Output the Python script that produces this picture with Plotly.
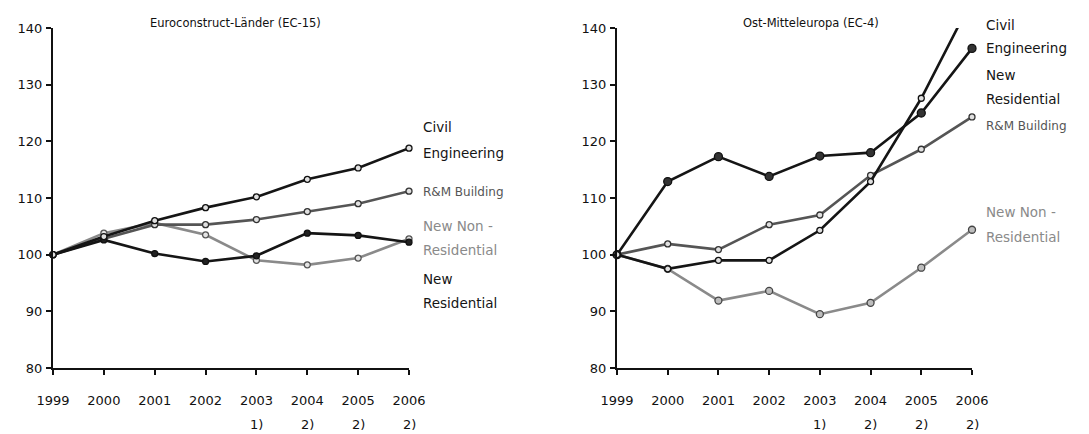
import plotly.graph_objects as go

years = [1999, 2000, 2001, 2002, 2003, 2004, 2005, 2006]
footnotes = ["", "", "", "", "1)", "2)", "2)", "2)"]

# Euroconstruct-Länder (EC-15)
ec15_civil = [100, 103.2, 106.0, 108.3, 110.2, 113.3, 115.3, 118.8]
ec15_rm = [100, 102.8, 105.3, 105.3, 106.2, 107.6, 109.0, 111.2]
ec15_nonres = [100, 103.8, 105.6, 103.5, 99.0, 98.2, 99.4, 102.8]
ec15_newres = [100, 102.6, 100.2, 98.8, 99.8, 103.8, 103.4, 102.2]

# Ost-Mitteleuropa (EC-4)
ec4_civil = [100, 97.5, 99.0, 99.0, 104.3, 112.9, 127.6, 145.0]
ec4_newres = [100, 112.9, 117.3, 113.8, 117.4, 118.0, 125.0, 136.4]
ec4_rm = [100, 101.9, 100.9, 105.3, 107.0, 114.0, 118.6, 124.3]
ec4_nonres = [100, 97.5, 91.9, 93.6, 89.5, 91.5, 97.7, 104.4]

FONT = "DejaVu Sans"
BLACK = "#151515"
DARK = "#555555"
LIGHT = "#8a8a8a"

fig = go.Figure()


def add(x, y, xa, ya, color, mfill, mline, size, clip=False, width=2.6):
    fig.add_trace(go.Scatter(
        x=x, y=y, xaxis=xa, yaxis=ya, mode="lines+markers",
        line=dict(color=color, width=width),
        marker=dict(symbol="circle", size=size, color=mfill,
                    line=dict(color=mline, width=1.3)),
        cliponaxis=clip, showlegend=False, hoverinfo="x+y"))


# left panel
add(years, ec15_nonres, "x", "y", LIGHT, "#e4e4e4", "#555", 6)
add(years, ec15_rm, "x", "y", DARK, "#e0e0e0", "#333", 6)
add(years, ec15_newres, "x", "y", BLACK, "#222", "#111", 6)
add(years, ec15_civil, "x", "y", BLACK, "#e0e0e0", "#111", 6)
# right panel
add(years, ec4_nonres, "x2", "y2", LIGHT, "#bdbdbd", "#444", 7)
add(years, ec4_rm, "x2", "y2", DARK, "#e0e0e0", "#333", 6)
add(years, ec4_newres, "x2", "y2", BLACK, "#333", "#111", 8)
add(years, ec4_civil, "x2", "y2", BLACK, "#e0e0e0", "#111", 6, clip=True)

# the page body has an 8px margin; figure is sized to fit the window
OFF = 8
W, H = 1089 - OFF, 434 - OFF


def fx(px):
    return (px - OFF) / W


def fy(py):
    return (H - (py - OFF)) / H


axis_common = dict(
    showgrid=False, zeroline=False, showline=True, linecolor="#111", linewidth=2,
    ticks="outside", ticklen=5, tickwidth=1.5, tickcolor="#111", automargin=False,
    tickfont=dict(family=FONT, size=13, color="#111"),
)

fig.update_layout(
    width=W, height=H, margin=dict(l=0, r=0, t=0, b=0, autoexpand=False),
    paper_bgcolor="white", plot_bgcolor="white",
    xaxis=dict(domain=[fx(53), fx(409)], range=[1999, 2006], tickvals=years,
               ticklabelstandoff=14, anchor="y", **axis_common),
    yaxis=dict(domain=[fy(368), fy(28)], range=[80, 140], dtick=10,
               ticklabelstandoff=1, anchor="x", **axis_common),
    xaxis2=dict(domain=[fx(617), fx(972)], range=[1999, 2006], tickvals=years,
                ticklabelstandoff=14, anchor="y2", **axis_common),
    yaxis2=dict(domain=[fy(368), fy(28)], range=[80, 140], dtick=10,
                ticklabelstandoff=1, anchor="x2", **axis_common),
)

ann = []
# titles
ann.append(dict(text="Euroconstruct-Länder (EC-15)", xref="x", yref="paper",
                x=2002.58, y=fy(23), yanchor="middle", showarrow=False,
                font=dict(family=FONT, size=11.5, color="#111")))
ann.append(dict(text="Ost-Mitteleuropa (EC-4)", xref="x2", yref="paper",
                x=2002.83, y=fy(23), yanchor="middle", showarrow=False,
                font=dict(family=FONT, size=11.5, color="#111")))
# footnotes
for xr in ["x", "x2"]:
    for yr, fn in zip(years, footnotes):
        if fn:
            ann.append(dict(text=fn, xref=xr, yref="paper", x=yr, y=fy(424),
                            yanchor="middle", showarrow=False,
                            font=dict(family=FONT, size=13, color="#111")))

# series labels (vertical positions in pixels from the top)
left_labels = [("Civil", 127, BLACK), ("Engineering", 153, BLACK),
               ("R&M Building", 192, "#555"), ("New Non -", 226, "#8a8a8a"),
               ("Residential", 250, "#8a8a8a"), ("New", 279, BLACK),
               ("Residential", 303, BLACK)]
right_labels = [("Civil", 25, BLACK), ("Engineering", 48, BLACK),
                ("New", 75, BLACK), ("Residential", 99, BLACK),
                ("R&M Building", 126, "#555"), ("New Non -", 212, "#8a8a8a"),
                ("Residential", 237, "#8a8a8a")]
for xr, labels in [("x", left_labels), ("x2", right_labels)]:
    for txt, py, col in labels:
        size = 12 if txt == "R&M Building" else 13.5
        ann.append(dict(text=txt, xref=xr, yref="paper", x=2006, y=fy(py),
                        xanchor="left", yanchor="middle", xshift=12, showarrow=False,
                        font=dict(family=FONT, size=size, color=col)))

fig.update_layout(annotations=ann)
fig.write_html("out.html")
